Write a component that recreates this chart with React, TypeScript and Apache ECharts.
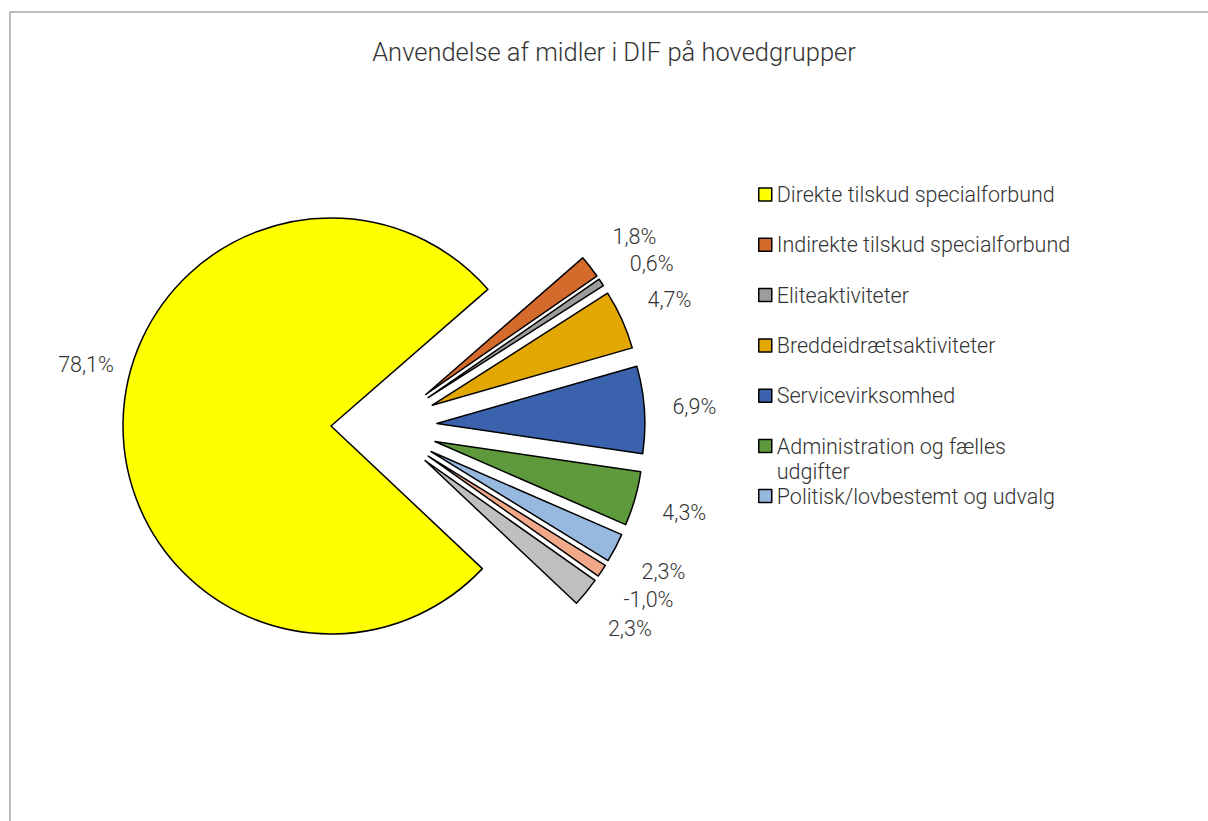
import React, { useEffect, useRef } from 'react';
import * as echarts from 'echarts';

const chartTitle = 'Anvendelse af midler i DIF på hovedgrupper';
const categories = [
  'Direkte tilskud specialforbund',
  'Indirekte tilskud specialforbund',
  'Eliteaktiviteter',
  'Breddeidrætsaktiviteter',
  'Servicevirksomhed',
  'Administration og fælles udgifter',
  'Politisk/lovbestemt og udvalg',
  'Øvrige poster',
  'Andre poster',
];
const shares = [78.1, 1.8, 0.6, 4.7, 6.9, 4.3, 2.3, -1.0, 2.3];
const colors = ['#FFFF00', '#D46A2B', '#9C9C9C', '#E2A700', '#3A62AD', '#5E9A3C', '#97B9E0', '#F2A98A', '#BFBFBF'];
const legendTop = categories.slice(0, 5);
const legendWrapped = categories.slice(5, 6);
const legendLast = categories.slice(6, 7);

const FONT = 'Roboto, "DejaVu Sans", sans-serif';
const TEXT = '#333333';

export default function App() {
  const ref = useRef<HTMLDivElement>(null);
  useEffect(() => {
    if (!ref.current) return;
    const chart = echarts.init(ref.current, null, { renderer: 'svg' });
    const legendText = { fontFamily: FONT, fontSize: 21.5, fontWeight: 300, color: TEXT, lineHeight: 29 };
    const legendBase = {
      orient: 'vertical',
      left: 758,
      padding: 0,
      itemGap: 21.3,
      itemWidth: 13,
      itemHeight: 13,
      icon: 'rect',
      selectedMode: false,
      textStyle: legendText,
      itemStyle: { borderColor: '#000', borderWidth: 1.5 },
    };
    chart.setOption({
      animation: false,
      backgroundColor: '#ffffff',
      title: {
        text: chartTitle,
        left: 614,
        textAlign: 'center',
        top: 37,
        padding: 0,
        textStyle: { fontFamily: FONT, fontSize: 25.5, fontWeight: 300, color: TEXT, lineHeight: 30 },
      },
      graphic: [
        {
          type: 'rect',
          shape: { x: 10, y: 12, width: 1210, height: 830 },
          style: { fill: 'none', stroke: '#A6A6A6', lineWidth: 1.5 },
          silent: true,
        },
      ],
      legend: [
        { ...legendBase, top: 180, data: legendTop },
        {
          ...legendBase,
          top: 409.5,
          formatter: (n: string) => {
            const cut = n.lastIndexOf(' ');
            return '{a|' + n.slice(0, cut) + '}\n{b|' + n.slice(cut + 1) + '}';
          },
          textStyle: {
            ...legendText,
            padding: [22, 0, 0, 0],
            rich: { a: { ...legendText }, b: { ...legendText, lineHeight: 22 } },
          },
          data: legendWrapped,
        },
        { ...legendBase, top: 483.5, textStyle: { ...legendText, lineHeight: 25 }, data: legendLast },
      ],
      series: [
        {
          type: 'pie',
          center: [384, 427],
          radius: 208,
          startAngle: -43.3,
          clockwise: true,
          selectedMode: 'multiple',
          selectedOffset: 53,
          avoidLabelOverlap: true,
          itemStyle: { borderColor: '#000', borderWidth: 1.5 },
          select: { itemStyle: { borderColor: '#000', borderWidth: 1.5 } },
          emphasis: { disabled: true },
          label: {
            show: true,
            position: 'outside',
            fontFamily: FONT,
            fontSize: 21.5,
            fontWeight: 300,
            color: TEXT,
            formatter: (p: any) => shares[p.dataIndex].toFixed(1).replace('.', ',') + '%',
          },
          labelLine: { show: false, length: 50, length2: 0 },
          labelLayout: (p: any) => {
            const half = p.labelRect.width / 2;
            // the large slice's label sits a little higher, as in the original layout
            if (p.dataIndex === 0) return { dx: half + 18, dy: -56 };
            return { dx: p.align === 'left' ? -half : half };
          },
          data: categories.map((n, i) => ({
            name: n,
            value: Math.abs(shares[i]),
            selected: true,
            itemStyle: { color: colors[i] },
          })),
        },
      ],
    });
    return () => chart.dispose();
  }, []);
  return <div ref={ref} style={{ position: 'absolute', left: 0, top: 0, width: 1208, height: 821 }} />;
}
